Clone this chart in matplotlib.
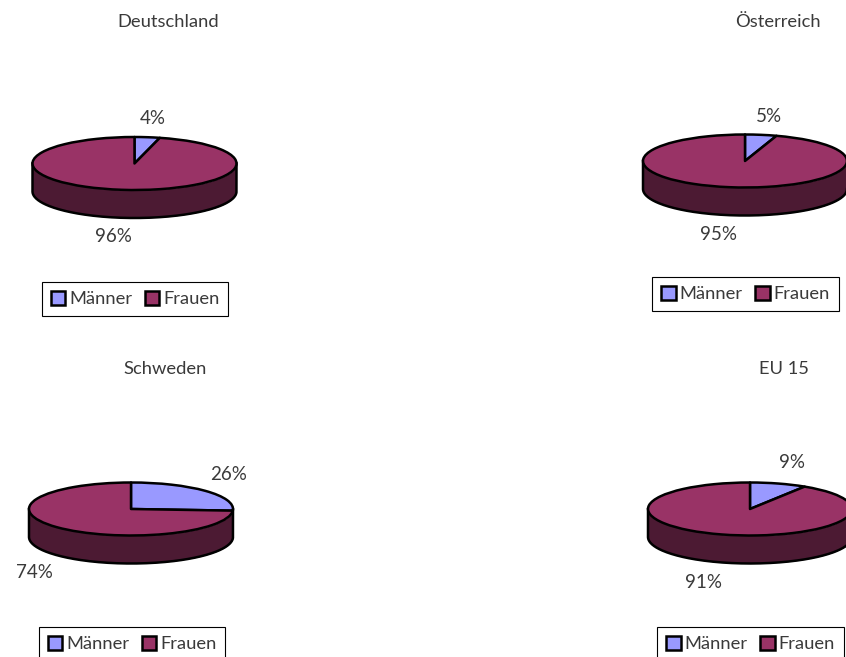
import matplotlib
matplotlib.use('Agg')
import matplotlib.pyplot as plt
import numpy as np

plt.rcParams['font.family'] = ['Lato', 'DejaVu Sans']
plt.rcParams['text.color'] = '#3a3a3a'

W, H = 846, 657

titles = ['Deutschland', 'Österreich', 'Schweden', 'EU 15']
categories = ['Männer', 'Frauen']
maenner = [4, 5, 26, 9]
frauen = [96, 95, 74, 91]

top_colors = ['#9999FF', '#993366']
side_colors = ['#4C4C80', '#4C1A33']

# layout in pixels
centers = [(134.5, 163.5), (745, 161), (131, 509), (750, 509)]
title_pos = [(168, 22), (778, 22), (165, 369), (784, 369)]
men_label_pos = [(153, 118), (769, 116), (229, 474), (792, 463)]
women_label_pos = [(113, 237), (718, 234), (34, 572), (703, 582)]
legend_pos = [(135, 299), (745.5, 294), (132, 644), (750.5, 644)]
rx, ry, depth = 102, 26.5, 28
lw = 1.8

fig = plt.figure(figsize=(W / 100, H / 100), dpi=100)


def px(x, y):
    # pixel position to figure fraction
    return x / W, 1 - y / H


for i in range(4):
    cx, cy = centers[i]
    d = depth / ry
    ax = fig.add_axes([(cx - rx) / W, 1 - (cy + ry + depth) / H, 2 * rx / W, (2 * ry + depth) / H])
    values = [maenner[i], frauen[i]]
    wedges, _ = ax.pie(values, startangle=90, counterclock=False, radius=1,
                       colors=top_colors,
                       wedgeprops={'edgecolor': 'black', 'linewidth': lw, 'joinstyle': 'round'})
    for w in wedges:
        w.set_clip_on(False)
        w.set_zorder(3)
    ax.set_aspect('auto')
    ax.set_xlim(-1, 1)
    ax.set_ylim(-1 - d, 1)

    # side wall, only the front half of each slice is visible
    start = 0
    for v, col in zip(values, side_colors):
        t = np.radians(np.linspace(start, start + v * 3.6, 200))
        t = t[np.cos(t) <= 0]
        if len(t) > 1:
            ax.fill_between(np.sin(t), np.cos(t), np.cos(t) - d, color=col, lw=0, zorder=1, clip_on=False)
        start += v * 3.6
    # wall outline as one line so the corners join cleanly
    t = np.radians(np.linspace(90, 270, 200))
    ax.plot(np.r_[1, np.sin(t), -1], np.r_[0, np.cos(t) - d, 0], color='black', lw=lw, zorder=2,
            clip_on=False, solid_joinstyle='round')

    tx, ty = px(*title_pos[i])
    fig.text(tx, ty, titles[i], fontsize=13.2, ha='center', va='center')
    tx, ty = px(*men_label_pos[i])
    fig.text(tx, ty, f'{maenner[i]}%', fontsize=13.5, ha='center', va='center')
    tx, ty = px(*women_label_pos[i])
    fig.text(tx, ty, f'{frauen[i]}%', fontsize=13.5, ha='center', va='center')

    leg = ax.legend(wedges, categories, ncol=2, loc='center', bbox_to_anchor=px(*legend_pos[i]),
                    bbox_transform=fig.transFigure, fancybox=False, framealpha=1, edgecolor='black',
                    fontsize=13.2, handlelength=0.8, handleheight=0.8, handletextpad=0.2,
                    columnspacing=0.7, borderpad=0.47, borderaxespad=0)
    leg.get_frame().set_linewidth(0.8)

fig.savefig('out.png', dpi=100)
